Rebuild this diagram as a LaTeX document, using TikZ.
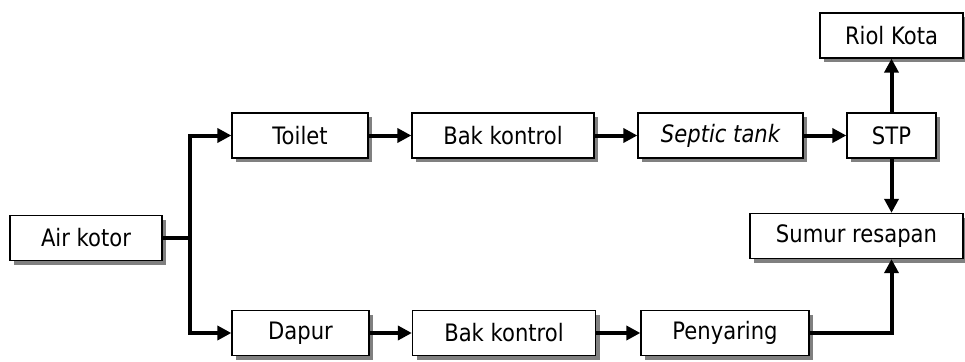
\documentclass[tikz,border=0pt]{standalone}
\usepackage{fontspec}
\setmainfont{DejaVu Sans}[FakeStretch=0.88]
\usetikzlibrary{arrows.meta,shadows,calc}

\tikzset{
  box/.style={draw=black, line width=1.3pt, fill=white, minimum height=45pt,
    inner sep=0pt, font=\fontsize{24}{28}\selectfont,
    drop shadow={shadow xshift=4pt, shadow yshift=-4pt, fill=black!50, opacity=1}},
  flow/.style={line width=4pt, line join=miter},
  arr/.style={flow, -{Triangle[length=14pt,width=14pt]}},
}

\begin{document}
\begin{tikzpicture}[x=1pt,y=-1pt]
  \useasboundingbox (0,0) rectangle (965,361);

  % boxes
  \node[box, minimum width=152pt] (air)    at (86,238)     {Air kotor};
  \node[box, minimum width=136pt] (toilet) at (300,135.5)  {Toilet};
  \node[box, minimum width=182pt] (bak1)   at (503,135.5)  {Bak kontrol};
  \node[box, minimum width=165pt] (septic) at (720.5,135.5){\itshape Septic tank};
  \node[box, minimum width=89pt]  (stp)    at (891.5,135.5){STP};
  \node[box, minimum width=143pt] (riol)   at (891.5,35.5) {Riol Kota};
  \node[box, minimum width=213pt] (sumur)  at (856.5,236)  {Sumur resapan};
  \node[box, minimum width=137pt] (dapur)  at (300.5,333)  {Dapur};
  \node[box, minimum width=183pt] (bak2)   at (504,333)    {Bak kontrol};
  \node[box, minimum width=168pt] (peny)   at (725,333)    {Penyaring};

  % branch point
  \coordinate (j) at (190,238);

  % connectors
  \draw[flow] (air.east) -- (j);
  \draw[arr] (j) |- (toilet.west);
  \draw[arr] (j) |- (dapur.west);
  \draw[arr] (toilet) -- (bak1);
  \draw[arr] (bak1) -- (septic);
  \draw[arr] (septic) -- (stp);
  \draw[arr] (stp) -- (riol);
  \draw[arr] (stp.south) -- (stp.south |- sumur.north);
  \draw[arr] (dapur) -- (bak2);
  \draw[arr] (bak2) -- (peny);
  \draw[arr] (peny.east) -| (stp.south |- sumur.south);
\end{tikzpicture}
\end{document}
